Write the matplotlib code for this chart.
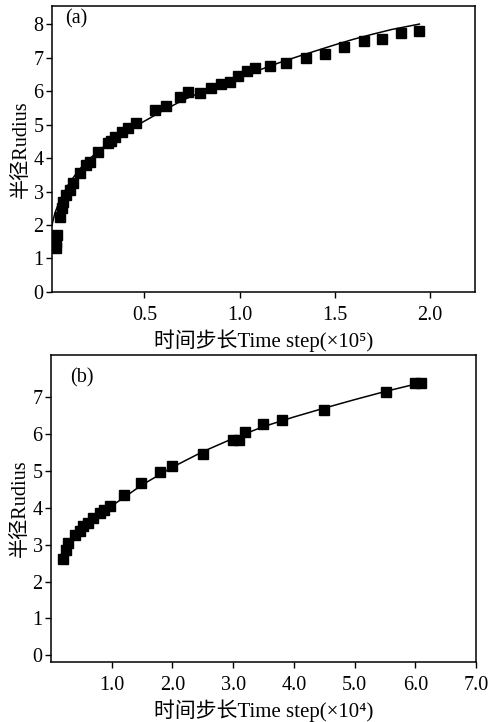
import matplotlib
matplotlib.use("Agg")
import matplotlib.pyplot as plt

plt.rcParams['font.family'] = ['Liberation Serif', 'Noto Sans CJK SC']

# Panel (a): time step in units of 1e5
a_x = [0.035, 0.037, 0.040, 0.056, 0.065, 0.073, 0.091, 0.108, 0.126, 0.16,
       0.196, 0.213, 0.257, 0.31, 0.327, 0.345, 0.38, 0.414, 0.458, 0.554,
       0.616, 0.685, 0.73, 0.79, 0.85, 0.90, 0.95, 0.99, 1.04, 1.08,
       1.16, 1.245, 1.35, 1.446, 1.55, 1.655, 1.748, 1.85, 1.944]
a_y = [1.32, 1.5, 1.7, 2.25, 2.5, 2.7, 2.9, 3.04, 3.24, 3.54,
       3.79, 3.89, 4.17, 4.45, 4.52, 4.64, 4.79, 4.89, 5.04, 5.42,
       5.56, 5.83, 5.96, 5.95, 6.08, 6.2, 6.27, 6.45, 6.61, 6.68,
       6.75, 6.85, 7.0, 7.12, 7.32, 7.5, 7.55, 7.72, 7.79]
a_fit_x = [0.015, 0.03, 0.05, 0.1, 0.15, 0.2, 0.3, 0.4, 0.5, 0.6, 0.7, 0.8,
           0.9, 1.0, 1.1, 1.2, 1.3, 1.4, 1.5, 1.6, 1.7, 1.8, 1.944]
a_fit_y = [2.0, 2.35, 2.65, 3.2, 3.6, 3.92, 4.4, 4.78, 5.1, 5.42, 5.72, 5.98,
           6.2, 6.4, 6.62, 6.83, 7.02, 7.2, 7.38, 7.55, 7.7, 7.84, 8.0]

# Panel (b): time step in units of 1e4
b_x = [0.195, 0.25, 0.28, 0.39, 0.47, 0.53, 0.61, 0.69, 0.80, 0.88, 0.97,
       1.20, 1.49, 1.79, 2.0, 2.5, 2.99, 3.09, 3.2, 3.5, 3.8, 4.49, 5.51,
       6.0, 6.1]
b_y = [2.61, 2.86, 3.05, 3.27, 3.36, 3.5, 3.59, 3.72, 3.86, 3.95, 4.04,
       4.35, 4.68, 4.98, 5.13, 5.45, 5.84, 5.84, 6.06, 6.27, 6.38, 6.65, 7.14,
       7.37, 7.37]
b_fit_x = [0.3, 0.5, 0.75, 1.0, 1.5, 2.0, 2.5, 3.0, 3.5, 4.0, 4.5, 5.0, 5.5, 6.05]
b_fit_y = [3.05, 3.38, 3.72, 4.05, 4.62, 5.1, 5.52, 5.88, 6.2, 6.46, 6.7, 6.93, 7.15, 7.37]

fs = 14.5
fig = plt.figure(figsize=(4.89, 7.22), dpi=100)
ax1 = fig.add_axes([0.1063, 0.5956, 0.8651, 0.3961])
ax2 = fig.add_axes([0.1043, 0.0831, 0.8691, 0.4252])

ax1.plot(a_fit_x, a_fit_y, color='black', lw=1.1, zorder=2)
ax1.plot(a_x, a_y, 's', color='black', ms=7, zorder=3)
ax1.set_xlim(0.015, 2.236)
ax1.set_ylim(0, 8.54)
ax1.set_xticks([0.5, 1.0, 1.5, 2.0])
ax1.set_xticklabels(['0.5', '1.0', '1.5', '2.0'])
ax1.set_yticks(range(0, 9))
ax1.set_xlabel('时间步长Time step(×10⁵)', fontsize=15, labelpad=3)
ax1.set_ylabel('半径Rudius', fontsize=fs, labelpad=2)
ax1.text(0.03, 0.955, '(a)', transform=ax1.transAxes, fontsize=fs, va='center')

ax2.plot(b_fit_x, b_fit_y, color='black', lw=1.1, zorder=2)
ax2.plot(b_x, b_y, 's', color='black', ms=7, zorder=3)
ax2.set_xlim(0, 7.0)
ax2.set_ylim(-0.18, 8.14)
ax2.set_xticks([1, 2, 3, 4, 5, 6, 7])
ax2.set_xticklabels(['1.0', '2.0', '3.0', '4.0', '5.0', '6.0', '7.0'])
ax2.set_yticks(range(0, 8))
ax2.set_xlabel('时间步长Time step(×10⁴)', fontsize=15, labelpad=3)
ax2.set_ylabel('半径Rudius', fontsize=fs, labelpad=2)
ax2.text(0.045, 0.925, '(b)', transform=ax2.transAxes, fontsize=fs, va='center')

for ax in (ax1, ax2):
    ax.tick_params(direction='out', length=4, width=1, labelsize=fs, pad=2,
                   top=False, right=False)
    ax.tick_params(axis='x', pad=6)
    for s in ax.spines.values():
        s.set_linewidth(1.1)

fig.savefig('out.png', dpi=100)
